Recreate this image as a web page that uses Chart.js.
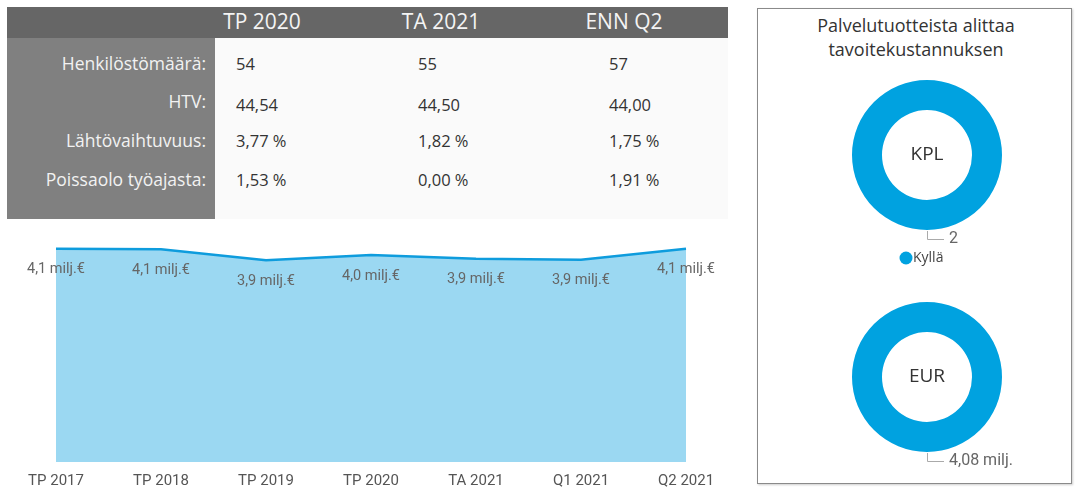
<!DOCTYPE html>
<html>
<head>
<meta charset="utf-8">
<script src="https://cdn.jsdelivr.net/npm/chart.js@4.4.0/dist/chart.umd.min.js"></script>
<style>
  html, body { margin:0; padding:0; background:#ffffff; width:1078px; height:488px; overflow:hidden; font-family:"Open Sans", sans-serif; }
  .abs { position:absolute; }
  #hdr { left:7px; top:7px; width:721px; height:31px; background:#666666; }
  #lcol { left:7px; top:38px; width:208px; height:181px; background:#808080; }
  #vbg { left:215px; top:38px; width:513px; height:181px; background:#fafafa; }
  .htxt { color:#f4f4f4; font-size:21px; top:7px; line-height:28px; white-space:nowrap; transform:translateX(-50%); }
  .rlab { color:#f2f2f2; font-size:17.5px; line-height:22px; white-space:nowrap; right:872px; text-align:right; }
  .rval { color:#333333; font-size:16.5px; line-height:22px; white-space:nowrap; }
  #panel { left:757px; top:8px; width:315px; height:476px; border:1.5px solid #8a8a8a; box-sizing:border-box; box-shadow:1px 1px 2px rgba(0,0,0,0.2); }
  #ptitle { left:757px; top:13px; width:318px; text-align:center; color:#333; font-size:18px; line-height:24px; }
</style>
</head>
<body>
<div id="hdr" class="abs"></div>
<div id="lcol" class="abs"></div>
<div id="vbg" class="abs"></div>
<div id="tbl"></div>
<div id="panel" class="abs"></div>
<div id="ptitle" class="abs">Palvelutuotteista alittaa<br>tavoitekustannuksen</div>

<canvas id="area" class="abs" style="left:0px;top:219px;width:740px;height:285px;" width="740" height="285"></canvas>
<canvas id="d1" class="abs" style="left:757px;top:65px;width:316px;height:205px;" width="316" height="205"></canvas>
<canvas id="d2" class="abs" style="left:757px;top:287px;width:316px;height:195px;" width="316" height="195"></canvas>

<script>
// ---- Table data ----
const tableColumns = ["TP 2020", "TA 2021", "ENN Q2"];
const rowLabels = ["Henkilöstömäärä:", "HTV:", "Lähtövaihtuvuus:", "Poissaolo työajasta:"];
const headcount = ["54", "55", "57"];
const htv = ["44,54", "44,50", "44,00"];
const turnover = ["3,77 %", "1,82 %", "1,75 %"];
const absence = ["1,53 %", "0,00 %", "1,91 %"];

// ---- Area chart data ----
const periods = ["TP 2017", "TP 2018", "TP 2019", "TP 2020", "TA 2021", "Q1 2021", "Q2 2021"];
const costMillions = [4.10, 4.09, 3.88, 3.98, 3.91, 3.89, 4.10];

// ---- Donut data ----
const donutCategory = ["Kyllä"];
const kplValues = [2];
const eurValues = [4.08];
const kplLabel = "2";
const eurLabel = "4,08 milj.";

// ---- Build table ----
(function(){
  const tbl = document.getElementById('tbl');
  const colCenters = [262, 441, 624];
  const colLefts = [236, 418, 609];
  const rowTops = [52, 90, 129, 168];
  const valOffsets = [1, 4, 1, 1];
  tableColumns.forEach((c, i) => {
    const d = document.createElement('div');
    d.className = 'abs htxt';
    d.style.left = colCenters[i] + 'px';
    d.textContent = c;
    tbl.appendChild(d);
  });
  const rows = [headcount, htv, turnover, absence];
  rowLabels.forEach((lab, r) => {
    const d = document.createElement('div');
    d.className = 'abs rlab';
    d.style.top = rowTops[r] + 'px';
    d.textContent = lab;
    tbl.appendChild(d);
    rows[r].forEach((v, i) => {
      const e = document.createElement('div');
      e.className = 'abs rval';
      e.style.left = colLefts[i] + 'px';
      e.style.top = (rowTops[r] + valOffsets[r]) + 'px';
      e.textContent = v;
      tbl.appendChild(e);
    });
  });
})();

// ---- Area chart ----
const labelFont = '14.5px "Roboto", "DejaVu Sans", sans-serif';
const dataLabelPlugin = {
  id: 'dataLabels',
  afterDatasetsDraw(chart) {
    const ctx = chart.ctx;
    const meta = chart.getDatasetMeta(0);
    ctx.save();
    ctx.font = labelFont;
    ctx.fillStyle = '#666666';
    ctx.textAlign = 'center';
    ctx.textBaseline = 'middle';
    meta.data.forEach((pt, i) => {
      const v = chart.data.datasets[0].data[i];
      const txt = v.toFixed(1).replace('.', ',') + ' milj.€';
      ctx.fillText(txt, pt.x, pt.y + 21);
    });
    ctx.restore();
  }
};

new Chart(document.getElementById('area'), {
  type: 'line',
  data: {
    labels: periods,
    datasets: [{
      data: costMillions,
      borderColor: '#0E9CDD',
      borderWidth: 2.5,
      backgroundColor: '#9BD8F2',
      fill: 'origin',
      pointRadius: 0,
      tension: 0
    }]
  },
  options: {
    responsive: false,
    animation: false,
    events: [],
    layout: { padding: { left: 56, right: 54, top: 9, bottom: 4 } },
    plugins: { legend: { display: false }, tooltip: { enabled: false } },
    scales: {
      x: {
        offset: false,
        grid: { display: false, drawTicks: false },
        border: { display: false },
        ticks: { color: '#555555', font: { family: 'Roboto', size: 15 }, padding: 10, maxRotation: 0, autoSkip: false }
      },
      y: { display: false, min: 0, max: 4.5 }
    }
  },
  plugins: [dataLabelPlugin]
});

// ---- Donuts ----
function donutPlugin(centerText, valueText, withLegend) {
  return {
    id: 'donutExtras',
    afterDraw(chart) {
      const ctx = chart.ctx;
      const arc = chart.getDatasetMeta(0).data[0];
      const cx = arc.x, cy = arc.y, r = arc.outerRadius;
      ctx.save();
      ctx.fillStyle = '#333333';
      ctx.font = '19px "Open Sans", sans-serif';
      ctx.textAlign = 'center';
      ctx.textBaseline = 'middle';
      ctx.fillText(centerText, cx, cy);
      // leader line
      ctx.strokeStyle = '#aaaaaa';
      ctx.lineWidth = 1;
      ctx.beginPath();
      ctx.moveTo(cx + 0.5, cy + r + 1);
      ctx.lineTo(cx + 0.5, cy + r + 9.5);
      ctx.lineTo(cx + 17, cy + r + 9.5);
      ctx.stroke();
      ctx.fillStyle = '#666666';
      ctx.font = '16px "Roboto", sans-serif';
      ctx.textAlign = 'left';
      ctx.fillText(valueText, cx + 22, cy + r + 9);
      if (withLegend) {
        ctx.fillStyle = chart.data.datasets[0].backgroundColor;
        ctx.beginPath();
        ctx.arc(cx - 21, cy + r + 28, 6.5, 0, Math.PI * 2);
        ctx.fill();
        ctx.fillStyle = '#444444';
        ctx.font = '14px "Open Sans", sans-serif';
        ctx.fillText(chart.data.labels[0], cx - 14, cy + r + 28);
      }
      ctx.restore();
    }
  };
}

function makeDonut(id, values, centerText, valueText, withLegend, pad) {
  new Chart(document.getElementById(id), {
    type: 'doughnut',
    data: {
      labels: donutCategory,
      datasets: [{ data: values, backgroundColor: '#00A2E0', borderWidth: 0 }]
    },
    options: {
      responsive: false,
      animation: false,
      events: [],
      cutout: '60%',
      layout: { padding: pad },
      plugins: { legend: { display: false }, tooltip: { enabled: false } }
    },
    plugins: [donutPlugin(centerText, valueText, withLegend)]
  });
}

makeDonut('d1', kplValues, 'KPL', kplLabel, true, { left: 95, right: 71, top: 15, bottom: 40 });
makeDonut('d2', eurValues, 'EUR', eurLabel, false, { left: 95, right: 71, top: 15, bottom: 30 });
</script>
</body>
</html>
